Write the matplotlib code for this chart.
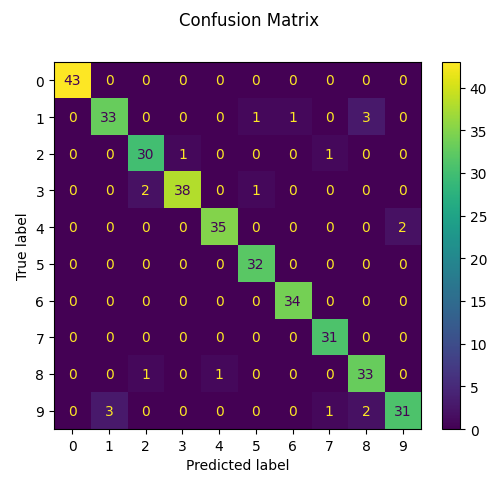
import matplotlib
matplotlib.use("Agg")
import matplotlib.pyplot as plt
import numpy as np

labels = [str(i) for i in range(10)]
cm = np.array([
    [43, 0, 0, 0, 0, 0, 0, 0, 0, 0],
    [0, 33, 0, 0, 0, 1, 1, 0, 3, 0],
    [0, 0, 30, 1, 0, 0, 0, 1, 0, 0],
    [0, 0, 2, 38, 0, 1, 0, 0, 0, 0],
    [0, 0, 0, 0, 35, 0, 0, 0, 0, 2],
    [0, 0, 0, 0, 0, 32, 0, 0, 0, 0],
    [0, 0, 0, 0, 0, 0, 34, 0, 0, 0],
    [0, 0, 0, 0, 0, 0, 0, 31, 0, 0],
    [0, 0, 1, 0, 1, 0, 0, 0, 33, 0],
    [0, 3, 0, 0, 0, 0, 0, 1, 2, 31],
])

fig = plt.figure(figsize=(4.99, 4.81), dpi=100)
ax = fig.add_axes([0.097, 0.106, 0.758, 0.763])
cax = fig.add_axes([0.886, 0.106, 0.036, 0.763])

cmap = plt.get_cmap("viridis")
im = ax.imshow(cm, cmap=cmap, interpolation="nearest")
fig.colorbar(im, cax=cax)

thresh = (cm.max() + cm.min()) / 2.0
for i in range(cm.shape[0]):
    for j in range(cm.shape[1]):
        color = cmap(0) if cm[i, j] > thresh else cmap(1.0)
        ax.text(j, i, str(cm[i, j]), ha="center", va="center", color=color)

ax.set_xticks(range(10), labels)
ax.set_yticks(range(10), labels)
ax.set_xlabel("Predicted label")
ax.set_ylabel("True label")
fig.suptitle("Confusion Matrix", y=0.975)

fig.savefig("out.png", dpi=100)
